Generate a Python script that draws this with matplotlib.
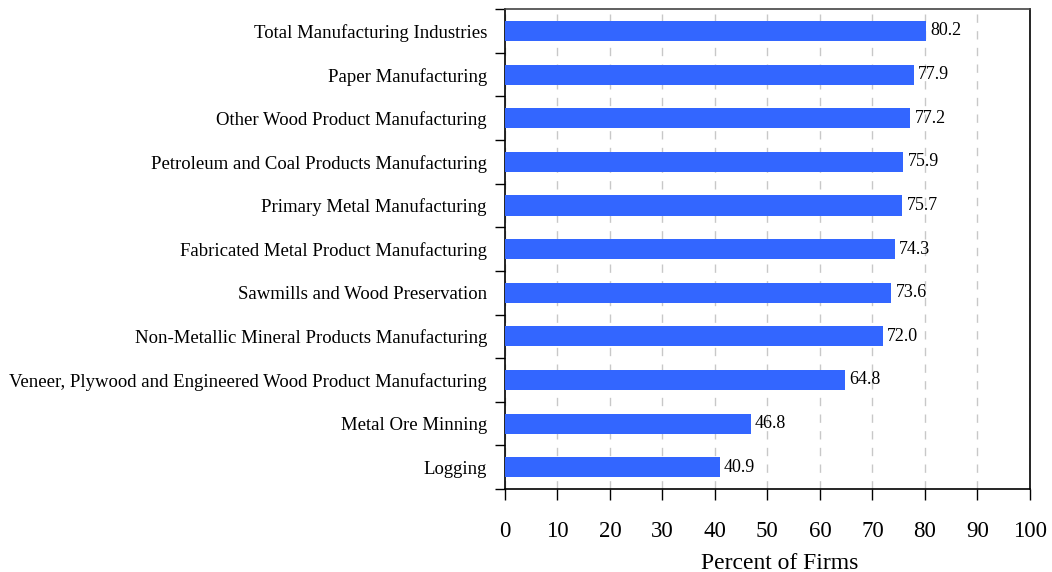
import matplotlib
matplotlib.use("Agg")
import matplotlib.pyplot as plt
import numpy as np

categories = [
    "Total Manufacturing Industries",
    "Paper Manufacturing",
    "Other Wood Product Manufacturing",
    "Petroleum and Coal Products Manufacturing",
    "Primary Metal Manufacturing",
    "Fabricated Metal Product Manufacturing",
    "Sawmills and Wood Preservation",
    "Non-Metallic Mineral Products Manufacturing",
    "Veneer, Plywood and Engineered Wood Product Manufacturing",
    "Metal Ore Minning",
    "Logging",
]
values = [80.2, 77.9, 77.2, 75.9, 75.7, 74.3, 73.6, 72.0, 64.8, 46.8, 40.9]
x_ticks = [0, 10, 20, 30, 40, 50, 60, 70, 80, 90, 100]

plt.rcParams["font.family"] = ["Liberation Serif", "DejaVu Serif"]

fig = plt.figure(figsize=(10.52, 5.72), dpi=100)
ax = fig.add_axes([0.48, 0.145, 0.499, 0.839])

n = len(categories)
y = np.arange(n)[::-1]
ax.barh(y, values, height=0.46, color="#3366ff", zorder=3)

for yi, v in zip(y, values):
    ax.text(v + 0.8, yi, f"{v:.1f}", va="center", ha="left", fontsize=13, zorder=4)

ax.set_xlim(0, 100)
ax.set_ylim(-0.5, n - 0.5)
ax.set_xticks(x_ticks)
ax.set_xticklabels([str(t) for t in x_ticks], fontsize=16.5)
ax.tick_params(axis="x", direction="out", length=8, width=1, pad=15)

ax.set_yticks(y)
ax.set_yticklabels(categories, fontsize=13.5)
ax.tick_params(axis="y", length=0, pad=13)
ax.set_yticks(np.arange(n + 1) - 0.5, minor=True)
ax.tick_params(axis="y", which="minor", direction="out", length=7, width=1)

ax.grid(axis="x", color="#c8c8c8", linestyle=(0, (6, 6)), linewidth=1, zorder=0)
ax.set_axisbelow(True)

for s in ax.spines.values():
    s.set_linewidth(1.2)
ax.spines["top"].set_color("#444444")

ax.set_xlabel("Percent of Firms", fontsize=17, labelpad=8, x=0.524)

fig.savefig("out.png", dpi=100)
